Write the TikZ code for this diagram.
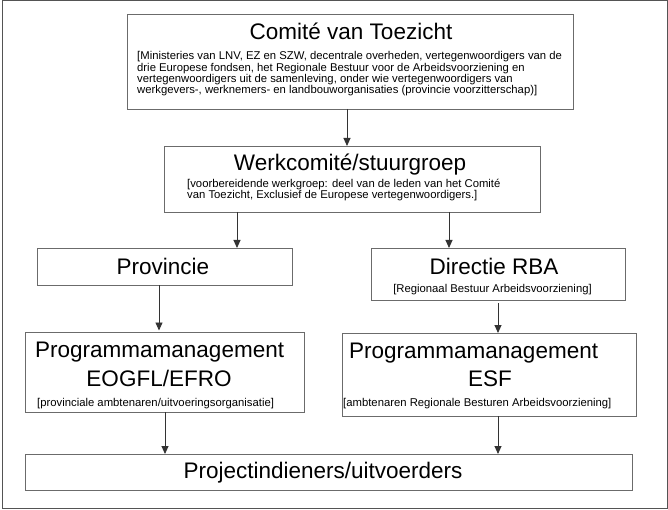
\documentclass[tikz,border=0pt]{standalone}
\usepackage{fontspec}
\setmainfont{Liberation Sans}
\usetikzlibrary{arrows.meta}
\definecolor{framegray}{gray}{0.33}
\definecolor{boxgray}{gray}{0.42}
\definecolor{linegray}{gray}{0.2}
\tikzset{
  box/.style={draw=boxgray, line width=0.9pt, inner sep=0pt, outer sep=0pt, anchor=north west},
  title/.style={font=\fontsize{22.5}{27}\selectfont, inner sep=0pt, anchor=base},
  subtext/.style={font=\fontsize{11.3}{11.1}\selectfont, inner sep=0pt, anchor=base west},
  arr/.style={draw=linegray, line width=0.9pt, -{Triangle[width=7pt,length=8pt]}}
}
\begin{document}
\begin{tikzpicture}[x=1pt,y=-1pt]
\useasboundingbox (0,0) rectangle (668,510);
\draw[framegray, line width=1pt] (2,1) rectangle (667,508);

% boxes
\node[box, minimum width=446, minimum height=95] (comite) at (127,14) {};
\node[box, minimum width=376, minimum height=66] (werk) at (164,146) {};
\node[box, minimum width=255, minimum height=37] (prov) at (37,248) {};
\node[box, minimum width=254, minimum height=52] (rba) at (371,248) {};
\node[box, minimum width=279, minimum height=80] (pmeo) at (25,332) {};
\node[box, minimum width=294, minimum height=83] (pmesf) at (342,333) {};
\node[box, minimum width=607, minimum height=36] (proj) at (25,454) {};

% texts
\node[title] (t1) at (351,39.3) {Comité van Toezicht};
\node[subtext] (s1a) at (137,60) {[Ministeries van LNV, EZ en SZW, decentrale overheden, vertegenwoordigers van de};
\node[subtext] (s1b) at (137,71.1) {drie Europese fondsen, het Regionale Bestuur voor de Arbeidsvoorziening en};
\node[subtext] (s1c) at (137,82.2) {vertegenwoordigers uit de samenleving, onder wie vertegenwoordigers van};
\node[subtext] (s1d) at (137,93.3) {werkgevers-, werknemers- en landbouworganisaties (provincie voorzitterschap)]};

\node[title] (t2) at (350,170.7) {Werkcomité/stuurgroep};
\node[subtext] (s2a) at (187,187.8) {[voorbereidende werkgroep: deel van de leden van het Comité};
\node[subtext] (s2b) at (187,198.9) {van Toezicht, Exclusief de Europese vertegenwoordigers.]};

\node[title] (t3) at (163,274) {Provincie};

\node[title] (t4) at (494,274) {Directie RBA};
\node[subtext, anchor=base] (s4) at (492.5,292.7) {[Regionaal Bestuur Arbeidsvoorziening]};

\node[title, anchor=base west] (t5a) at (35,357) {Programmamanagement};
\node[title] (t5b) at (159,386) {EOGFL/EFRO};
\node[subtext] (s5) at (37,406) {[provinciale ambtenaren/uitvoeringsorganisatie]};

\node[title, anchor=base west] (t6a) at (349,358.3) {Programmamanagement};
\node[title] (t6b) at (490,386.5) {ESF};
\node[subtext] (s6) at (343,406.5) {[ambtenaren Regionale Besturen Arbeidsvoorziening]};

\node[title] (t7) at (323,478.3) {Projectindieners/uitvoerders};

% connector x positions
\coordinate (xa) at (347,0);
\coordinate (xb) at (237,0);
\coordinate (xc) at (449,0);
\coordinate (xd) at (159,0);
\coordinate (xe) at (498,0);
\coordinate (xf) at (165,0);

\draw[arr] (comite.south -| xa) -- (werk.north -| xa);
\draw[arr] (werk.south -| xb) -- (prov.north -| xb);
\draw[arr] (werk.south -| xc) -- (rba.north -| xc);
\draw[arr, shorten >=1.5pt] (prov.south -| xd) -- (pmeo.north -| xd);
\draw[arr, shorten <=3pt] (rba.south -| xe) -- (pmesf.north -| xe);
\draw[arr] (pmeo.south -| xf) -- (proj.north -| xf);
\draw[arr] (pmesf.south -| xe) -- (proj.north -| xe);
\end{tikzpicture}
\end{document}
